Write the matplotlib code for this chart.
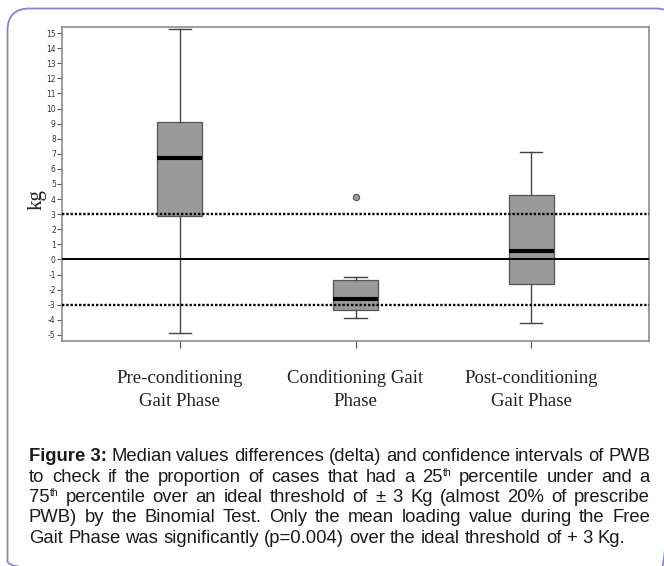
import numpy as np
import matplotlib.pyplot as plt
from matplotlib.patches import FancyBboxPatch

categories = ['Pre-conditioning\nGait Phase', 'Conditioning Gait\nPhase', 'Post-conditioning\nGait Phase']
medians = [6.75, -2.65, 0.55]
q1 = [2.85, -3.35, -1.6]
q3 = [9.1, -1.35, 4.25]
whisker_lo = [-4.85, -3.9, -4.2]
whisker_hi = [15.25, -1.15, 7.15]
outliers = [[], [4.15], []]
thresholds = [3, -3]
yticks = list(range(-5, 16))

# '**' marks bold words, '^' marks a superscript
caption = [
    "**Figure **3: Median values differences (delta) and confidence intervals of PWB",
    "to check if the proportion of cases that had a 25^th percentile under and a",
    "75^th percentile over an ideal threshold of ± 3 Kg (almost 20% of prescribe",
    "PWB) by the Binomial Test. Only the mean loading value during the Free",
    "Gait Phase was significantly (p=0.004) over the ideal threshold of + 3 Kg.",
]

W, H = 664, 566
fig = plt.figure(figsize=(W / 100, H / 100), dpi=100)

# background layer in pixel units (border + caption)
bg = fig.add_axes([0, 0, 1, 1])
bg.set_xlim(0, W)
bg.set_ylim(H, 0)
bg.axis('off')
bg.add_patch(FancyBboxPatch((7.5, 8.5), 670, 575, boxstyle="round,pad=0,rounding_size=22",
                            fc='none', ec='#8886c4', lw=1.3))

ax = fig.add_axes([62 / W, 1 - 341 / H, 587 / W, 314 / H])
pos = np.arange(1, len(categories) + 1)
stats = []
for i in range(len(categories)):
    stats.append(dict(med=medians[i], q1=q1[i], q3=q3[i], whislo=whisker_lo[i],
                      whishi=whisker_hi[i], fliers=outliers[i]))
ax.bxp(stats, positions=pos, widths=0.255, patch_artist=True, showfliers=True,
       boxprops=dict(facecolor='#9a9a9a', edgecolor='#555555', linewidth=0.9),
       medianprops=dict(color='black', linewidth=3),
       whiskerprops=dict(color='#444444', linewidth=1.0),
       capprops=dict(color='#444444', linewidth=1.0), capwidths=0.128,
       flierprops=dict(marker='o', markersize=4.5, markerfacecolor='#9a9a9a',
                       markeredgecolor='#555555', markeredgewidth=0.8))
for t in thresholds:
    ax.axhline(t, color='black', ls=(0, (1, 0.8)), lw=1.7, zorder=5)
ax.axhline(0, color='black', lw=1.4, zorder=5)

ax.set_xlim(0.33, 3.67)
ax.set_ylim(-5.4, 15.4)
ax.set_yticks(yticks)
ax.set_yticklabels([str(v) for v in yticks], fontsize=5.5, color='#333333')
ax.set_xticks(pos)
ax.set_xticklabels(categories, fontsize=13.5, family='Liberation Serif', linespacing=1.42,
                   color='#222222')
ax.tick_params(axis='y', length=3.5, width=0.8, color='#555555', pad=1)
ax.tick_params(axis='x', length=5, width=0.8, color='#555555', pad=16)
for s in ax.spines.values():
    s.set_color('#8c8c8c')
    s.set_linewidth(1.2)
ax.set_ylabel('kg', fontsize=15, family='Liberation Serif', color='#222222')
ax.yaxis.set_label_coords(-0.026, 0.45)

# justified caption
r = fig.canvas.get_renderer()
fs = 13.3
sup_fs = 7.5
left, right = 29, 650
baselines = [461, 481.5, 502, 522.5, 543]


def width(s, weight, size):
    t = bg.text(0, 0, s, fontsize=size, fontweight=weight, family='Liberation Sans')
    w = t.get_window_extent(r).width
    t.remove()
    return w


def parse(word):
    if word.startswith('**'):
        return [(word.strip('*'), 'bold', fs, 0)]
    if '^' in word:
        a, b = word.split('^')
        return [(a, 'normal', fs, 0), (b, 'normal', sup_fs, -6)]
    return [(word, 'normal', fs, 0)]


for li, line in enumerate(caption):
    words = line.split(' ')
    items = []
    for k, w in enumerate(words):
        if k == 1 and li == 0:
            items[-1] = [('Figure 3:', 'bold', fs, 0)]
            continue
        items.append(parse(w))
    widths = [sum(width(s, wt, sz) for s, wt, sz, _ in it) for it in items]
    total = sum(widths)
    if li < len(caption) - 1:
        gap = (right - left - total) / (len(items) - 1)
    else:
        gap = width('a b', 'normal', fs) - width('ab', 'normal', fs)
    x = left
    for it, w in zip(items, widths):
        xx = x
        for s, wt, sz, dy in it:
            bg.text(xx, baselines[li] + dy, s, fontsize=sz, fontweight=wt,
                    family='Liberation Sans', va='baseline', ha='left', color='#1a1a1a')
            xx += width(s, wt, sz)
        x += w + gap

fig.savefig('out.png', dpi=100)
